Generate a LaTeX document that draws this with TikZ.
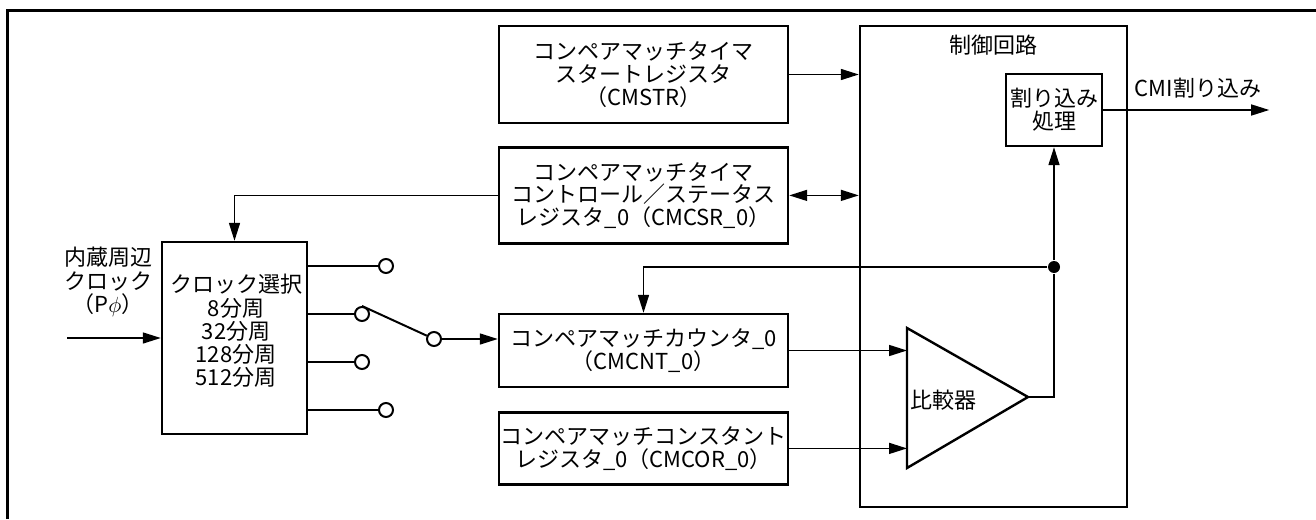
\documentclass[tikz,border=0pt]{standalone}
\usepackage{fontspec}
\setmainfont{Noto Sans CJK JP}
\usetikzlibrary{arrows.meta,positioning}

\begin{document}
\begin{tikzpicture}[x=0.5pt,y=-0.5pt,>={Triangle[length=9pt,width=5.5pt]},
    line width=0.75pt,
    reg/.style={rectangle,draw,line width=1.2pt,align=center,inner sep=1pt,
      font=\fontsize{11}{11.4}\selectfont,minimum width=144.5pt},
    blk/.style={rectangle,draw,line width=1.2pt,inner sep=0pt},
    swpt/.style={circle,draw,line width=1pt,fill=white,inner sep=0pt,
      minimum size=7pt},
    lbl/.style={align=center,font=\fontsize{11}{11.6}\selectfont,inner sep=0pt}]
\useasboundingbox (0,0) rectangle (1316,519);
\draw[line width=1.5pt] (7,519) -- (7,11) -- (1316,11);
% registers
\node[reg,minimum height=48.5pt] (cmstr) at (643.5,74.5)
  {コンペアマッチタイマ\\スタートレジスタ\\（CMSTR）};
\node[reg,minimum height=48pt,below=11pt of cmstr] (cmcsr)
  {コンペアマッチタイマ\\コントロール／ステータス\\レジスタ\_0（CMCSR\_0）};
\node[reg,minimum height=36.5pt] (cmcnt) at (643.5,350.5)
  {コンペアマッチカウンタ\_0\\（CMCNT\_0）};
\node[reg,minimum height=36pt,below=11.5pt of cmcnt] (cmcor)
  {コンペアマッチコンスタント\\レジスタ\_0（CMCOR\_0）};
% control circuit
\node[blk,minimum width=133.5pt,minimum height=240.5pt] (ctl) at (993.5,266.5) {};
\node[lbl] (ctltitle) at (993,45) {制御回路};
\node[blk,align=center,minimum width=48pt,minimum height=36pt,
  font=\fontsize{11}{11.6}\selectfont] (intr) at (1054,110) {割り込み\\処理};
\node[lbl] (cmilbl) at (1198,88) {CMI割り込み};
\draw[->] (intr.east) -- ++(166,0) coordinate (cmiout);
% clock select
\node[blk,minimum width=72.5pt,minimum height=96pt] (clk) at (234.5,338) {};
\node[lbl] (clktext) at (236,331) {クロック選択\\8分周\\32分周\\128分周\\512分周};
\node[lbl] (clkin lbl) at (108,282) {内蔵周辺\\クロック\\（P$\phi$）};
\coordinate (clkin) at (67,338);
\draw[->] (clkin) -- (clk.west);
\foreach \y/\x [count=\i] in {266/386,314/362,362/362,410/386}{
  \node[swpt] (out\i) at (\x,\y) {};
  \draw (clk.east |- out\i) -- (out\i);
}
\node[swpt] (pivot) at (434,339) {};
\draw[line width=1pt] (out2.north) -- (pivot);
\draw[->] (pivot) -- (pivot -| cmcnt.west);
% comparator
\draw[line width=1.2pt] (907,328) coordinate (cmpA) -- (1028,397) coordinate (cmpout)
  -- (907,468) coordinate (cmpB) -- cycle;
\node[lbl] (cmplbl) at (943,400) {比較器};
\draw[->] (cmcnt.east) -- (cmcnt.east -| cmpA);
\draw[->] (cmcor.east) -- (cmcor.east -| cmpA);
\node[circle,fill,inner sep=0pt,minimum size=6pt] (tap) at (1054,267) {};
\draw (cmpout) -| (tap);
\draw[->] (tap) -- (intr.south);
\draw[->] (tap) -| (cmcnt.north);
% register links
\draw[->] (cmstr.east) -- (cmstr.east -| ctl.west);
\draw[<->] (cmcsr.east) -- (cmcsr.east -| ctl.west);
\draw[->] (cmcsr.west) -| (clk.north);
\end{tikzpicture}
\end{document}
